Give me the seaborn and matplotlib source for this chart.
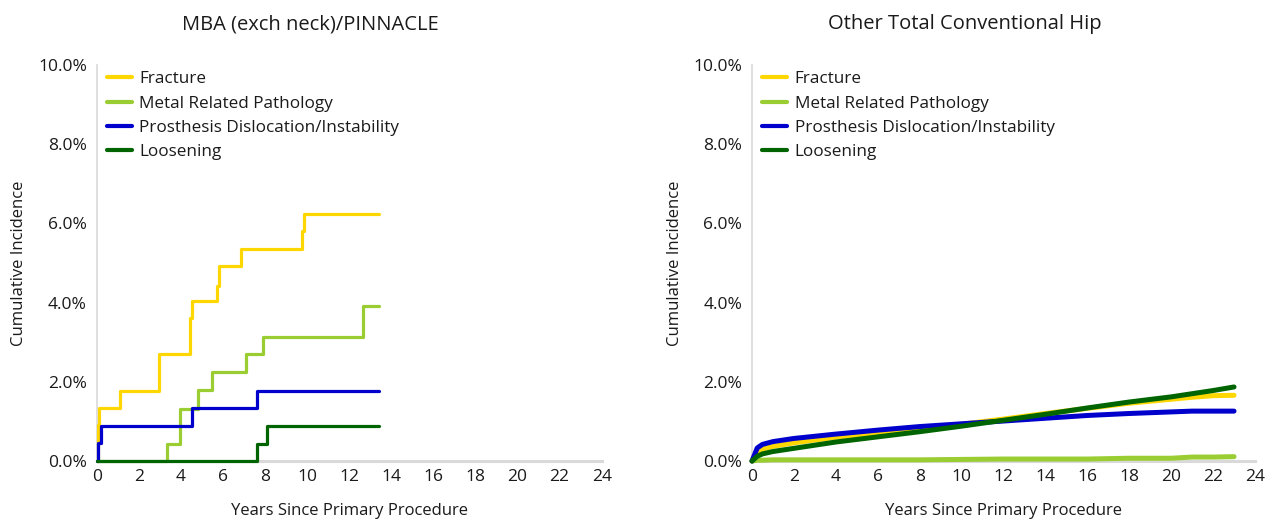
# Cumulative incidence of revision by cause, two panels
import pandas as pd
import numpy as np
import matplotlib
matplotlib.use("Agg")
import matplotlib.pyplot as plt
from matplotlib.ticker import FuncFormatter
import seaborn as sns

#%%
# Data (percent)
causes = ["Fracture", "Metal Related Pathology",
          "Prosthesis Dislocation/Instability", "Loosening"]
colours = ["#FFD700", "#9ACD32", "#0000CD", "#006400"]

# Left panel: step curves
mba_fracture_t = [0, 0.05, 0.12, 1.09, 2.94, 4.46, 4.52, 5.74, 5.80, 6.88, 9.78, 9.85, 13.43]
mba_fracture_y = [0, 0.90, 1.33, 1.78, 2.70, 3.60, 4.03, 4.43, 4.93, 5.36, 5.80, 6.25, 6.25]
mba_metal_t = [0, 3.33, 3.96, 4.80, 5.50, 7.12, 7.90, 12.68, 13.43]
mba_metal_y = [0, 0.42, 1.31, 1.80, 2.24, 2.71, 3.13, 3.92, 3.92]
mba_disloc_t = [0, 0.05, 0.20, 4.54, 7.63, 13.43]
mba_disloc_y = [0, 0.45, 0.89, 1.33, 1.78, 1.78]
mba_loosen_t = [0, 7.60, 8.09, 13.43]
mba_loosen_y = [0, 0.44, 0.89, 0.89]

# Right panel: smooth curves
other_t = [0, 0.25, 0.5, 1, 2, 4, 6, 8, 10, 12, 14, 16, 18, 20, 21, 22, 23]
other_fracture = [0, 0.22, 0.30, 0.37, 0.46, 0.60, 0.71, 0.80, 0.93, 1.06, 1.20, 1.33, 1.46, 1.56, 1.61, 1.65, 1.66]
other_metal = [0, 0.02, 0.02, 0.03, 0.03, 0.03, 0.03, 0.03, 0.04, 0.05, 0.05, 0.05, 0.07, 0.07, 0.10, 0.10, 0.11]
other_disloc = [0, 0.33, 0.42, 0.49, 0.57, 0.68, 0.78, 0.87, 0.94, 1.01, 1.08, 1.15, 1.20, 1.24, 1.26, 1.26, 1.26]
other_loosen = [0, 0.12, 0.18, 0.24, 0.32, 0.48, 0.61, 0.74, 0.88, 1.03, 1.18, 1.34, 1.49, 1.62, 1.70, 1.78, 1.87]

titles = ["MBA (exch neck)/PINNACLE", "Other Total Conventional Hip"]

#%%
def long_frame(pairs):
    frames = []
    for cause, (t, y) in zip(causes, pairs):
        frames.append(pd.DataFrame({"Years": t, "Incidence": y, "Cause": cause}))
    return pd.concat(frames, ignore_index=True)

mba = long_frame([(mba_fracture_t, mba_fracture_y), (mba_metal_t, mba_metal_y),
                  (mba_disloc_t, mba_disloc_y), (mba_loosen_t, mba_loosen_y)])
other = long_frame([(other_t, other_fracture), (other_t, other_metal),
                    (other_t, other_disloc), (other_t, other_loosen)])

#%%
sns.set_style("white")
plt.rcParams["font.family"] = ["Open Sans", "DejaVu Sans"]
palette = dict(zip(causes, colours))
text_col = "#1a1a1a"

fig = plt.figure(figsize=(12.75, 5.24), dpi=100)
ax1 = fig.add_axes([0.0758, 0.1202, 0.3961, 0.7557])
ax2 = fig.add_axes([0.5898, 0.1202, 0.3945, 0.7557])

sns.lineplot(data=mba, x="Years", y="Incidence", hue="Cause", hue_order=causes,
             palette=palette, drawstyle="steps-post", linewidth=2.3,
             estimator=None, sort=False, ax=ax1, zorder=3, clip_on=False)
sns.lineplot(data=other, x="Years", y="Incidence", hue="Cause", hue_order=causes,
             palette=palette, linewidth=3.6, estimator=None, sort=False, ax=ax2,
             zorder=3, clip_on=False)

for ax, title in zip([ax1, ax2], titles):
    ax.set_xlim(0, 24)
    ax.set_ylim(0, 10)
    ax.set_xticks(range(0, 25, 2))
    ax.set_yticks(range(0, 11, 2))
    ax.yaxis.set_major_formatter(FuncFormatter(lambda v, p: f"{v:.1f}%"))
    ax.tick_params(axis="both", labelsize=12.5, colors="#bfbfbf", labelcolor=text_col,
                   length=4, width=1, direction="out")
    ax.tick_params(axis="x", pad=2)
    ax.tick_params(axis="y", pad=3)
    for side in ["top", "right"]:
        ax.spines[side].set_visible(False)
    ax.spines["left"].set_color("#d9d9d9")
    ax.spines["left"].set_linewidth(1.2)
    ax.spines["bottom"].set_color("#d9d9d9")
    ax.spines["bottom"].set_linewidth(2.2)
    for sp in ax.spines.values():
        sp.set_zorder(1)
    ax.set_xlabel("Years Since Primary Procedure", fontsize=12, color=text_col, labelpad=13)
    ax.set_ylabel("Cumulative Incidence", fontsize=12, color=text_col)
    ax.yaxis.set_label_coords(-0.137, 0.5)
    ax.text(0.424, 1.103, title, transform=ax.transAxes, ha="center", va="center",
            fontsize=14.5, color=text_col)
    leg = ax.legend(loc="upper left", bbox_to_anchor=(0.0, 1.01), frameon=False,
                    fontsize=12.3, handlelength=1.45, handletextpad=0.45,
                    labelspacing=0.48, borderaxespad=0.2)
    for line in leg.get_lines():
        line.set_linewidth(3)
    for txt in leg.get_texts():
        txt.set_color(text_col)

fig.savefig("out.png", dpi=100)
